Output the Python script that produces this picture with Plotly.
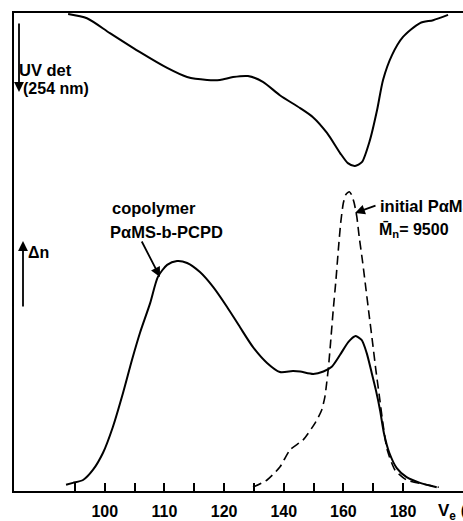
import plotly.graph_objects as go

# x in tick divisions (tick 0 .. 11), y in relative detector response (0-100 of frame height)
tick_pos = list(range(12))
tick_text = ["", "100", "", "110", "", "120", "", "140", "", "160", "", "180"]

uv_x = [-0.23, 0.40, 1.17, 2.18, 3.09, 3.76, 4.43, 4.86, 5.30, 5.80, 6.30, 6.87, 7.55, 7.98,
        8.45, 8.89, 9.15, 9.39, 9.62, 9.89, 10.13, 10.33, 10.63, 11.00, 11.57, 12.01, 12.51]
uv_y = [99.8, 98.9, 95.8, 91.8, 88.5, 86.6, 86.0, 86.0, 86.6, 86.8, 85.6, 82.8, 80.1, 78.2,
        74.9, 70.7, 68.6, 68.0, 68.8, 73.4, 79.7, 86.0, 91.2, 95.0, 97.9, 98.5, 99.6]

ri_x = [-0.30, -0.07, 0.27, 0.60, 0.94, 1.27, 1.61, 1.91, 2.18, 2.52, 2.78, 3.09, 3.42, 3.76,
        4.19, 4.63, 5.10, 5.53, 5.97, 6.44, 6.87, 7.31, 7.55, 7.99, 8.33, 8.61, 8.89, 9.17,
        9.39, 9.61, 9.78, 9.95, 10.09, 10.23, 10.36, 10.54, 10.79, 11.12, 11.57, 12.13]
ri_y = [1.3, 1.7, 2.3, 4.4, 8.0, 13.4, 20.5, 27.4, 33.1, 39.3, 44.8, 47.3, 48.1, 47.7,
        45.8, 42.7, 38.5, 34.3, 30.1, 26.8, 24.9, 25.1, 25.0, 24.5, 25.0, 26.0, 28.5, 31.2,
        32.4, 31.6, 28.9, 24.7, 21.1, 16.9, 12.1, 8.0, 4.8, 2.9, 1.7, 0.8]

ini_x = [5.97, 6.44, 6.87, 7.21, 7.65, 8.05, 8.27, 8.38, 8.44, 8.50, 8.57, 8.66, 8.75, 8.83,
         8.91, 9.00, 9.09, 9.20, 9.28, 9.36, 9.45, 9.53, 9.65, 9.76, 9.87, 9.98, 10.09, 10.21,
         10.34, 10.47, 10.73, 11.12, 11.79, 12.20]
ini_y = [0.8, 2.3, 5.0, 8.6, 10.7, 14.2, 16.9, 19.7, 22.6, 25.9, 31.0, 37.9, 44.1, 50.4,
         56.1, 60.3, 62.1, 62.6, 61.9, 60.3, 57.4, 53.2, 47.7, 42.1, 36.5, 31.0, 25.3, 19.7,
         13.5, 8.6, 4.4, 2.3, 1.3, 0.8]

W, H = 463, 521
L, R, T, B = 14, 0, 13, 30
PW, PH = W - L - R, H - T - B


def px(x):
    return (x - L) / PW


def py(y):
    return (H - B - y) / PH


FONT = "Liberation Sans, Arial, sans-serif"

fig = go.Figure()
fig.add_trace(go.Scatter(x=uv_x, y=uv_y, mode="lines",
                         line=dict(color="black", width=2, shape="spline", smoothing=0.7)))
fig.add_trace(go.Scatter(x=ri_x, y=ri_y, mode="lines",
                         line=dict(color="black", width=2, shape="spline", smoothing=0.7)))
fig.add_trace(go.Scatter(x=ini_x, y=ini_y, mode="lines",
                         line=dict(color="black", width=1.6, dash="9px,5px", shape="spline", smoothing=0.6)))

ann = []


def text(s, x, y, size=15, xanchor="left"):
    ann.append(dict(text=s, x=px(x), y=py(y), xref="paper", yref="paper", showarrow=False,
                    xanchor=xanchor, yanchor="middle", font=dict(family=FONT, size=size, color="black")))


def arrow(x0, y0, x1, y1, head=2):
    # tail (x0,y0) -> tip (x1,y1)
    ann.append(dict(text="", x=px(x1), y=py(y1), xref="paper", yref="paper", showarrow=True,
                    ax=x0 - x1, ay=y0 - y1, axref="pixel", ayref="pixel",
                    arrowhead=head, arrowsize=1.1, arrowwidth=1.8, arrowcolor="black"))


text("<b>UV det</b>", 17, 70, 16.5)
text("<b>(254 nm)</b>", 21, 89, 16)
arrow(19, 22, 19, 92)
text("<b>Δn</b>", 26, 252, 16)
arrow(23, 308, 23, 241)
text("<b>copolymer</b>", 110, 208, 16.5)
text("<b>PαMS-b-PCPD</b>", 108, 232, 16.5)
arrow(141, 240, 160, 277)
text("<b>initial PαMS</b>", 378, 206, 16.5)
text("<b>M\u0304<sub>n</sub>= 9500</b>", 377, 230, 16)
arrow(377, 205, 355, 213)
text("<b>V<sub>e</sub> (ml)</b>", 436, 512, 17)

fig.update_layout(
    width=W, height=H,
    margin=dict(l=L, r=R, t=T, b=B, pad=0),
    paper_bgcolor="white", plot_bgcolor="white",
    showlegend=False,
    annotations=ann,
    xaxis=dict(range=[(L - 75) / 29.82, (W - 75) / 29.82], tickvals=tick_pos, ticktext=tick_text,
               ticks="inside", ticklen=8, tickwidth=2, tickcolor="black",
               showline=True, linecolor="black", linewidth=2, mirror=True,
               showgrid=False, zeroline=False, ticklabelstandoff=5,
               tickfont=dict(family=FONT, size=16, color="black", weight="bold")),
    yaxis=dict(range=[0, 100], showline=True, linecolor="black", linewidth=2, mirror=False,
               showgrid=False, zeroline=False, showticklabels=False, ticks=""),
)
fig.write_html("out.html")
